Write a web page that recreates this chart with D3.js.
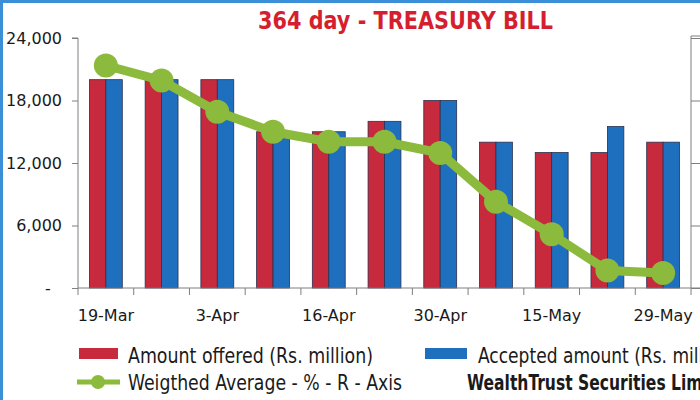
<!DOCTYPE html>
<html>
<head>
<meta charset="utf-8">
<script src="https://cdn.jsdelivr.net/npm/d3@7"></script>
<style>
  html, body { margin: 0; padding: 0; background: #fff; }
  svg { display: block; }
  .narrow { font-family: "Liberation Sans Narrow", "DejaVu Sans Condensed", "Roboto Condensed", "Arial Narrow", sans-serif; font-stretch: condensed; }
</style>
</head>
<body>
<svg id="chart" width="700" height="400"></svg>
<script>
const categories = ["19-Mar","26-Mar","3-Apr","9-Apr","16-Apr","23-Apr","30-Apr","8-May","15-May","22-May","29-May"];
const offered    = [20000,20000,20000,15000,15000,16000,18000,14000,13000,13000,14000];
const accepted   = [20000,20000,20000,15000,15000,16000,18000,14000,13000,15500,14000];
const weightedAvg = [8.78,8.66,8.41,8.25,8.17,8.17,8.08,7.69,7.43,7.14,7.12];
const leftTicks  = [0,6000,12000,18000,24000];
const rightTicks = [7,7.5,8,8.5,9];
const seriesKeys = ["offered","accepted"];
const seriesNames = ["Amount offered (Rs. million)","Accepted amount (Rs. million)"];
const lineName = "Weigthed Average - % - R - Axis";
const title = "364 day - TREASURY BILL";
const credit = "WealthTrust Securities Limited";

(function(){
const svg = d3.select("#chart");
const pL = 78, pR = 691, pT = 38, pB = 288;

// frame
svg.append("rect").attr("x",1.5).attr("y",1.5).attr("width",800).attr("height",500)
  .attr("fill","none").attr("stroke","#3a8fd8").attr("stroke-width",3);

const x = d3.scaleBand().domain(categories).range([pL,pR]).paddingInner(0).paddingOuter(0);
const bw = x.bandwidth();
const x1 = d3.scaleBand().domain(seriesKeys).range([bw*0.205, bw*0.795]).padding(0);
const y = d3.scaleLinear().domain([0,24000]).range([pB,pT]);
const yR = d3.scaleLinear().domain([7,9]).range([pB,pT]);

// title
svg.append("text").attr("class","narrow").attr("x",258).attr("y",29)
  .attr("textLength",295).attr("lengthAdjust","spacingAndGlyphs")
  .attr("font-size",24).attr("font-weight","bold").attr("fill","#d61f2e").text(title);

// bars
const colors = {offered:"#c62a3c", accepted:"#1e6fbd"};
const rows = categories.map((c,i)=>({c, offered:offered[i], accepted:accepted[i]}));
const g = svg.append("g");
rows.forEach(r=>{
  seriesKeys.forEach(k=>{
    g.append("rect")
      .attr("x", x(r.c)+x1(k)).attr("y", y(r[k]))
      .attr("width", x1.bandwidth()).attr("height", y(0)-y(r[k]))
      .attr("fill", colors[k]).attr("stroke","#2a3150").attr("stroke-width",0.8);
  });
});

// left axis
const axL = svg.append("g").attr("transform",`translate(${pL},0)`)
  .call(d3.axisLeft(y).tickValues(leftTicks).tickSize(6).tickPadding(10)
    .tickFormat(d=> d===0 ? "-\u2002\u2009" : d3.format(",")(d)));
axL.selectAll("path,line").attr("stroke","#7f7f7f");
axL.selectAll("text").attr("font-family","'DejaVu Sans', Verdana, sans-serif").attr("font-size",16).attr("fill","#1a1a1a").attr("xml:space","preserve");
axL.select(".domain").attr("d",`M-6,${pT}H0V${pB}`);

// right axis (labels cropped off)
const axR = svg.append("g").attr("transform",`translate(${pR},0)`)
  .call(d3.axisRight(yR).tickValues(rightTicks).tickSize(9).tickFormat(""));
axR.selectAll("path,line").attr("stroke","#7f7f7f");
axR.select(".domain").attr("d",`M9,${pT-2}H0V${pB}`);

// bottom axis
svg.append("line").attr("x1",pL).attr("x2",700).attr("y1",pB).attr("y2",pB).attr("stroke","#7f7f7f");
const bounds = categories.map(c=>x(c)).concat([x(categories[categories.length-1])+bw]);
svg.selectAll(".xt").data(bounds).enter().append("line")
  .attr("x1",d=>d).attr("x2",d=>d).attr("y1",pB).attr("y2",pB+7).attr("stroke","#7f7f7f");
const axB = svg.append("g").attr("transform",`translate(0,${pB})`)
  .call(d3.axisBottom(x).tickValues(categories.filter((d,i)=>i%2===0)).tickSize(0).tickPadding(22));
axB.select(".domain").remove();
axB.selectAll("text").attr("font-family","'DejaVu Sans', Verdana, sans-serif").attr("font-size",16).attr("fill","#1a1a1a");

// line
const green = "#8cba3c";
const pts = categories.map((c,i)=>({c, v:weightedAvg[i]}));
svg.append("path").datum(pts)
  .attr("d", d3.line().x(d=>x(d.c)+bw/2).y(d=>yR(d.v)))
  .attr("fill","none").attr("stroke",green).attr("stroke-width",9).attr("stroke-linejoin","round");
svg.selectAll(".dot").data(pts).enter().append("circle")
  .attr("cx",d=>x(d.c)+bw/2).attr("cy",d=>yR(d.v)).attr("r",12).attr("fill",green);

// legend
const lg = svg.append("g").attr("class","narrow");
lg.append("rect").attr("x",79).attr("y",348).attr("width",39).attr("height",11).attr("fill",colors.offered);
lg.append("text").attr("x",128).attr("y",363).attr("font-size",21).attr("fill","#1a1a1a")
  .attr("textLength",245).attr("lengthAdjust","spacingAndGlyphs").text(seriesNames[0]);
lg.append("rect").attr("x",425).attr("y",348).attr("width",42).attr("height",11).attr("fill",colors.accepted);
lg.append("text").attr("x",478).attr("y",363).attr("font-size",21).attr("fill","#1a1a1a")
  .attr("textLength",258).attr("lengthAdjust","spacingAndGlyphs").text(seriesNames[1]);
lg.append("line").attr("x1",77).attr("x2",120).attr("y1",382).attr("y2",382).attr("stroke",green).attr("stroke-width",5);
lg.append("circle").attr("cx",98).attr("cy",382).attr("r",7).attr("fill",green);
lg.append("text").attr("x",128).attr("y",390).attr("font-size",21).attr("fill","#1a1a1a")
  .attr("textLength",274).attr("lengthAdjust","spacingAndGlyphs").text(lineName);
lg.append("text").attr("x",467).attr("y",390).attr("font-size",21).attr("font-weight","bold").attr("fill","#1a1a1a")
  .attr("textLength",270).attr("lengthAdjust","spacingAndGlyphs").text(credit);
})();
</script>
</body>
</html>
